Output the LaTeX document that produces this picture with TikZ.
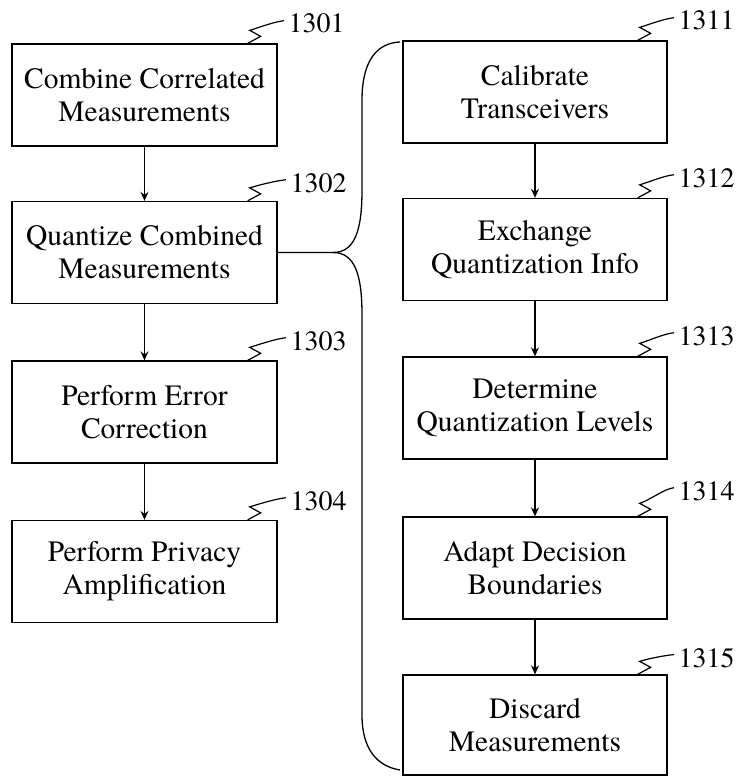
\documentclass[tikz,border=0pt]{standalone}
\usepackage{fontspec}
\setmainfont{TeX Gyre Termes}
\usetikzlibrary{arrows.meta}
\begin{document}
\begin{tikzpicture}[x=1pt,y=-1pt,
  line width=1.3pt,
  stepbox/.style={draw,rectangle,align=center,inner sep=0pt,
    minimum width=265pt,minimum height=102pt,
    font=\rmfamily\fontsize{29.5}{33}\selectfont},
  reflabel/.style={inner sep=0pt,anchor=base west,font=\rmfamily\fontsize{28}{32}\selectfont},
  flow/.style={-{Stealth[length=9pt,width=8pt,inset=3pt]}}]
\useasboundingbox (0,0) rectangle (740,776);
% left column
\node[stepbox] (b1) at (144.5,95) {Combine Correlated\\Measurements};
\node[stepbox] (b2) at (144.5,252.5) {Quantize Combined\\Measurements};
\node[stepbox] (b3) at (144.5,412) {Perform Error\\Correction};
\node[stepbox] (b4) at (144.5,571.5) {Perform Privacy\\Amplification};
% right column
\node[stepbox,minimum width=264pt] (c1) at (535,92) {Calibrate\\Transceivers};
\node[stepbox,minimum width=264pt] (c2) at (535,249.5) {Exchange\\Quantization Info};
\node[stepbox,minimum width=264pt] (c3) at (535,408) {Determine\\Quantization Levels};
\node[stepbox,minimum width=264pt] (c4) at (535,568) {Adapt Decision\\Boundaries};
\node[stepbox,minimum width=264pt,minimum height=100pt] (c5) at (535,725) {Discard\\Measurements};
% arrows
\draw[flow] (b1) -- (b2);
\draw[flow] (b2) -- (b3);
\draw[flow] (b3) -- (b4);
\draw[flow] (c1) -- (c2);
\draw[flow] (c2) -- (c3);
\draw[flow] (c3) -- (c4);
\draw[flow] (c4) -- (c5);
% reference labels
\node[reflabel] (l1) at (288,33) {1301};
\node[reflabel] (l2) at (290,192) {1302};
\node[reflabel] (l3) at (290,350) {1303};
\node[reflabel] (l4) at (290,510) {1304};
\node[reflabel] (m1) at (678,30) {1311};
\node[reflabel] (m2) at (678,187) {1312};
\node[reflabel] (m3) at (678,345) {1313};
\node[reflabel] (m4) at (678,500) {1314};
\node[reflabel] (m5) at (678,667) {1315};
\foreach \b/\l in {b1/l1,b2/l2,b3/l3,b4/l4,c1/m1,c2/m2,c3/m3,c4/m4,c5/m5}{
  \draw[line width=1.2pt] ([xshift=-30pt]\b.north east) -- ++(13,-7) -- ++(-11,-6)
     .. controls +(10,-3) and +(-10,1) .. ([xshift=-4pt,yshift=3pt]\l.west);
}
% brace
\coordinate (bj) at (333,252.5);
\coordinate (bt) at (400,42);
\coordinate (bb) at (400,770);
\draw (b2.east) -- (bj)
  .. controls (355,252.5) and (362,230) .. (362,190) -- (362,100)
  .. controls (362,62) and (376,43) .. (bt);
\draw (bj)
  .. controls (355,252.5) and (362,275) .. (362,315) -- (362,715)
  .. controls (362,748) and (376,766) .. (bb);
\end{tikzpicture}
\end{document}
